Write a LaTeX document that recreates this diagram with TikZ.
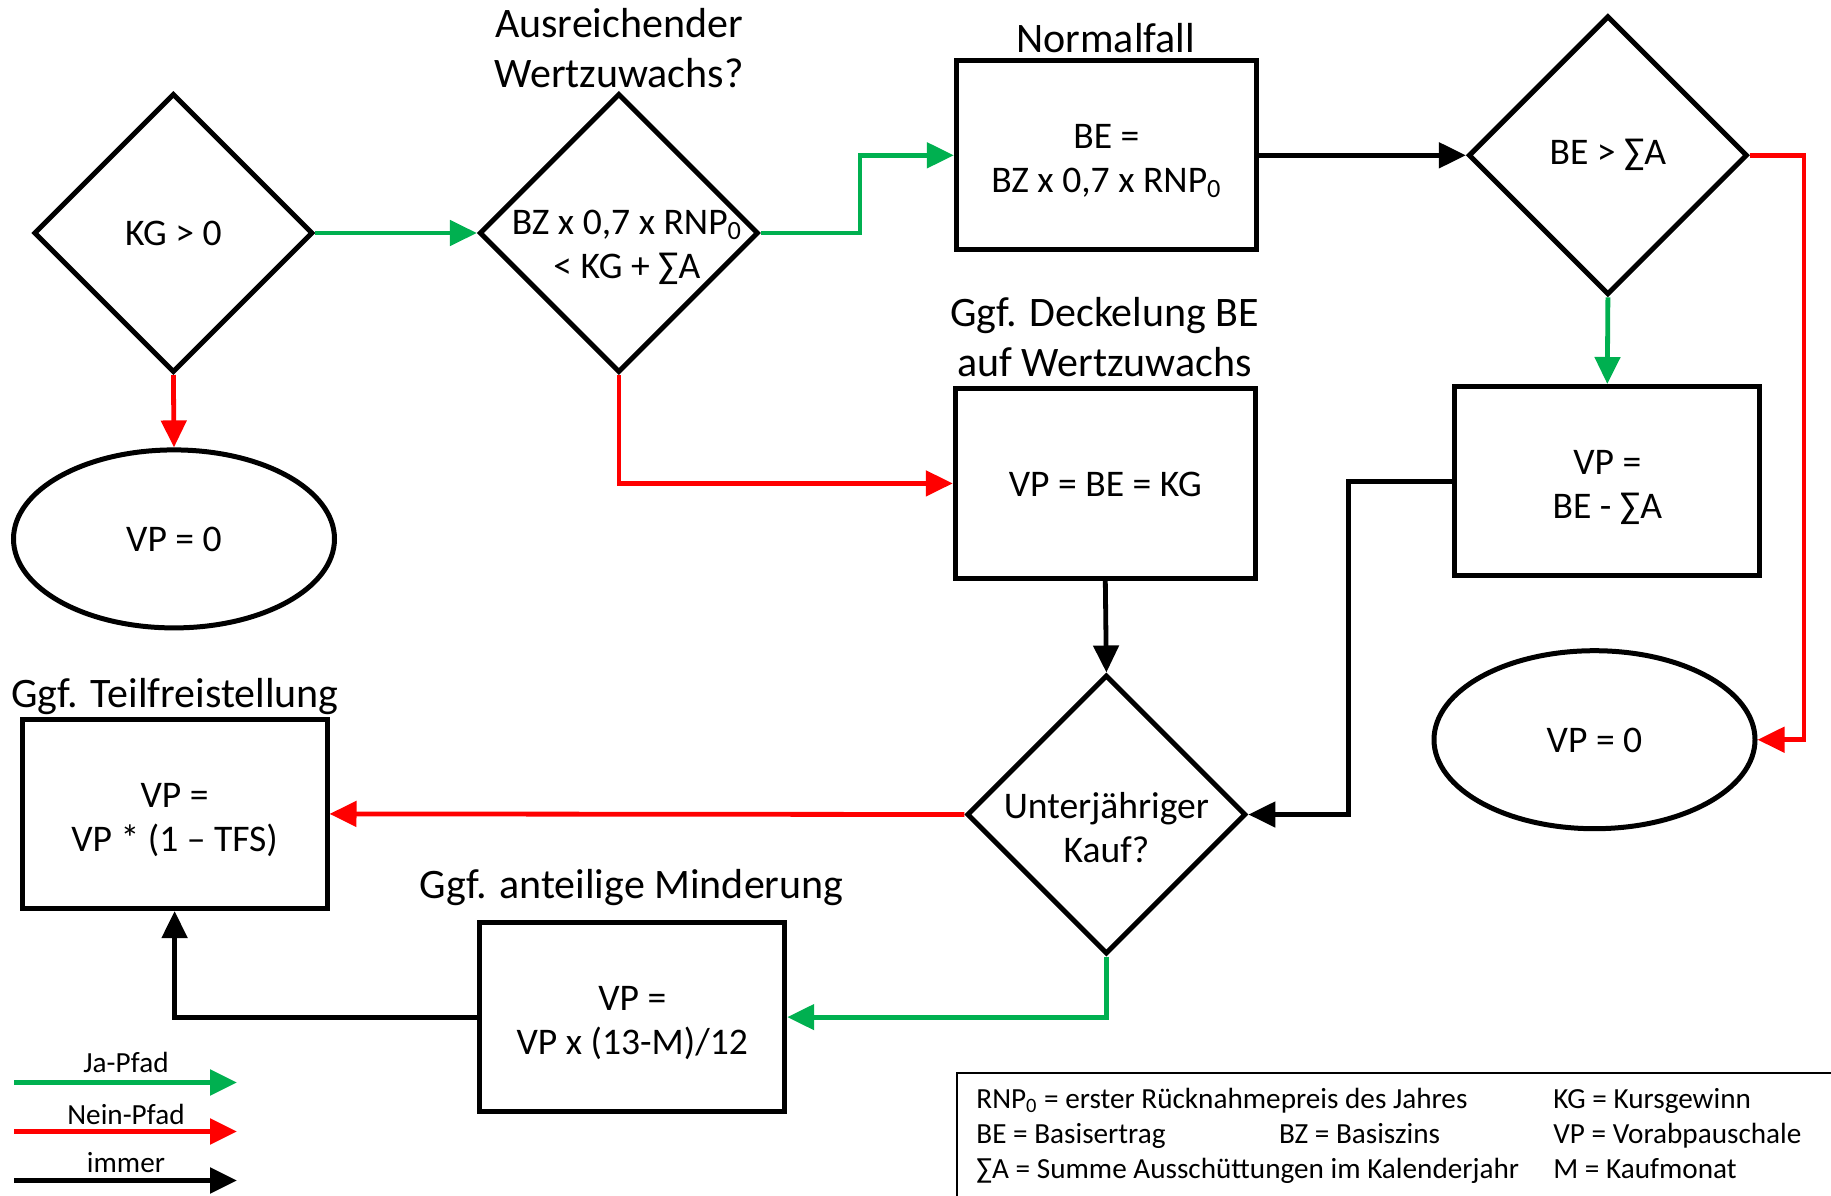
\documentclass[tikz,border=0pt]{standalone}
\usepackage{fontspec}
\setmainfont{Carlito}
\usetikzlibrary{shapes.geometric,arrows.meta}
\definecolor{jagreen}{RGB}{0,176,80}
\definecolor{neinred}{RGB}{255,0,0}
\begin{document}
\begin{tikzpicture}[x=0.5pt,y=-0.5pt,
  outline/.style={draw=black, line width=2.5pt},
  dec/.style={diamond, outline, minimum width=139.5pt, minimum height=139.5pt, inner sep=0pt, aspect=1},
  box/.style={rectangle, outline, minimum width=151pt, minimum height=94.6pt, inner sep=0pt},
  term/.style={ellipse, outline, minimum width=160.5pt, minimum height=89pt, inner sep=0pt},
  txt/.style={align=center, font=\fontsize{18.8}{22}\selectfont, inner sep=0pt},
  head/.style={align=center, font=\fontsize{21}{25}\selectfont, inner sep=0pt},
  legtxt/.style={font=\fontsize{14.6}{17}\selectfont, inner sep=0pt},
  conn/.style={line width=2.4pt, -{Triangle[length=13.5pt,width=12.5pt]}},
  yes/.style={conn, color=jagreen},
  nein/.style={conn, color=neinred},
  always/.style={conn, color=black},
  legarrow/.style={line width=2.6pt, -{Triangle[length=13.5pt,width=12.5pt]}},
]
\useasboundingbox (0,0) rectangle (1831,1195);

% decisions
\node[dec] (d1) at (173.4,233) {};
\node[txt] (d1t) at (d1) {KG > 0};
\node[dec] (d2) at (618.9,233) {};
\node[txt] (d2t) at ([shift={(8,14)}]d2.center) {BZ x 0,7 x RNP\textsubscript{0}\\< KG + ∑A};
\node[dec] (d3) at (1607.9,155.3) {};
\node[txt] (d3t) at (d3) {BE > ∑A};
\node[dec] (d4) at (1106.4,814.5) {};
\node[txt] (d4t) at ([shift={(0,13)}]d4.center) {Unterjähriger\\Kauf?};

% process boxes
\node[box, minimum width=150pt] (rn) at (1106.4,155.3) {};
\node[txt] (rnt) at ([shift={(0,6)}]rn.center) {BE =\\BZ x 0,7 x RNP\textsubscript{0}};
\node[box, minimum width=152.4pt] (rv) at (1607.3,481.1) {};
\node[txt] (rvt) at ([shift={(0,6)}]rv.center) {VP =\\BE - ∑A};
\node[box, minimum width=150pt] (rk) at (1105.3,483.4) {};
\node[txt] (rkt) at ([shift={(0,1)}]rk.center) {VP = BE = KG};
\node[box, minimum width=152.4pt] (rt) at (174.6,813.9) {};
\node[txt] (rtt) at ([shift={(0,6)}]rt.center) {VP =\\VP * (1 – TFS)};
\node[box, minimum width=152.4pt] (rm) at (632.3,1017.1) {};
\node[txt] (rmt) at ([shift={(0,6)}]rm.center) {VP =\\VP x (13-M)/12};

% terminals
\node[term] (el) at (174,538.9) {};
\node[txt] (elt) at ([shift={(0,1)}]el.center) {VP = 0};
\node[term] (er) at (1594.5,739.7) {};
\node[txt] (ert) at ([shift={(0,1)}]er.center) {VP = 0};

% headings
\node[head] (h1) at (619,48.5) {Ausreichender\\Wertzuwachs?};
\node[head] (h2) at (1105.8,38.5) {Normalfall};
\node[head] (h3) at (1104.6,336.9) {Ggf. Deckelung BE\\auf Wertzuwachs};
\node[head] (h4) at (175,697) {Ggf. Teilfreistellung};
\node[head] (h5) at (631.7,887.5) {Ggf. anteilige Minderung};

% connectors
\draw[yes] (d1.east) -- (d2.west);
\draw[nein] (d1.south) -- (el.north);
\draw[yes] (d2.east) -- ++(99,0) |- (rn.west);
\draw[nein] (d2.south) |- (rk.west);
\draw[always] (rn.east) -- (d3.west);
\draw[yes] (d3.south) -- (rv.north);
\draw[nein] (d3.east) -- ++(54,0) |- (er.east);
\draw[always] (rv.west) -- ++(-104,0) |- (d4.east);
\draw[always] (rk.south) -- (d4.north);
\draw[nein] (d4.west) -- (rt.east);
\draw[yes] (d4.south) |- (rm.east);
\draw[always] (rm.west) -| (rt.south);

% legend arrows
\coordinate (ja0) at (14,1082.5);  \coordinate (ja1) at (237,1082.5);
\coordinate (ne0) at (14,1131.5);  \coordinate (ne1) at (237,1131.5);
\coordinate (im0) at (14,1180.5);  \coordinate (im1) at (237,1180.5);
\draw[legarrow, jagreen] (ja0) -- (ja1);
\draw[legarrow, neinred] (ne0) -- (ne1);
\draw[legarrow, black] (im0) -- (im1);
\node[legtxt] (lja) at (126,1062.6) {Ja-Pfad};
\node[legtxt] (lne) at (126,1114) {Nein-Pfad};
\node[legtxt] (lim) at (126,1163) {immer};

% abbreviations
\begin{scope}
\clip (0,0) rectangle (1831,1195);
\node[draw=black, line width=0.9pt, anchor=north west, minimum width=480pt, minimum height=80pt] (leg) at (956.3,1072) {};
\end{scope}
\node[legtxt, anchor=base west] (a1) at (976,1108.5) {RNP\textsubscript{0} = erster Rücknahmepreis des Jahres};
\node[legtxt, anchor=base west] (a2) at (1553,1108.5) {KG = Kursgewinn};
\node[legtxt, anchor=base west] (a3) at (976,1143.5) {BE = Basisertrag};
\node[legtxt, anchor=base west] (a4) at (1278.6,1143.5) {BZ = Basiszins};
\node[legtxt, anchor=base west] (a5) at (1553,1143.5) {VP = Vorabpauschale};
\node[legtxt, anchor=base west] (a6) at (976,1178.5) {∑A = Summe Ausschüttungen im Kalenderjahr};
\node[legtxt, anchor=base west] (a7) at (1553,1178.5) {M = Kaufmonat};
\end{tikzpicture}
\end{document}
